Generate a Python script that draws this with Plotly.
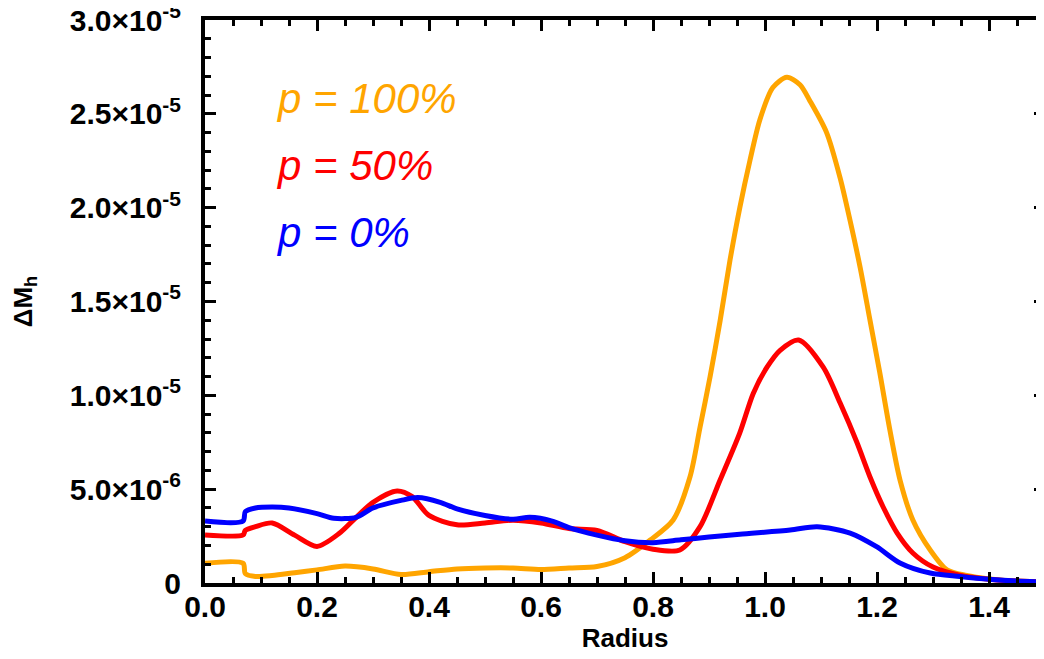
import plotly.graph_objects as go

# Data (values in units of 1e-6)
x_orange = [0, 0.068, 0.072, 0.09, 0.12, 0.16, 0.2, 0.25, 0.3, 0.35, 0.4, 0.45, 0.5, 0.55, 0.6, 0.65, 0.7,
            0.75, 0.795, 0.836, 0.866, 0.884, 0.902, 0.920, 0.9375, 0.955, 0.973, 0.991, 1.014, 1.039,
            1.0625, 1.080, 1.11, 1.134, 1.152, 1.170, 1.1875, 1.205, 1.223, 1.241, 1.264, 1.295, 1.325,
            1.36, 1.4, 1.45, 1.5]
y_orange = [1.05, 1.05, 0.5, 0.35, 0.4, 0.55, 0.7, 0.9, 0.75, 0.45, 0.6, 0.75, 0.8, 0.8, 0.72, 0.8, 0.88,
            1.35, 2.29, 3.36, 5.65, 8.3, 11.0, 14.0, 17.2, 20.0, 22.5, 24.7, 26.4, 26.95,
            26.55, 25.7, 24.0, 21.6, 19.3, 16.8, 14.0, 11.2, 8.15, 5.5, 3.36, 1.76, 0.7,
            0.4, 0.22, 0.1, 0.05]

x_red = [0, 0.068, 0.072, 0.09, 0.12, 0.16, 0.2, 0.24, 0.27, 0.3, 0.343, 0.37, 0.4, 0.45, 0.5, 0.55, 0.6,
         0.65, 0.7, 0.75, 0.8, 0.848, 0.884, 0.920, 0.955, 0.979, 1.0036, 1.027, 1.06, 1.104, 1.134,
         1.164, 1.1875, 1.211, 1.236, 1.264, 1.300, 1.35, 1.4, 1.45, 1.5]
y_red = [2.56, 2.56, 2.8, 3.0, 3.2, 2.55, 1.95, 2.65, 3.5, 4.3, 4.9, 4.6, 3.6, 3.1, 3.2, 3.35, 3.2,
         2.9, 2.8, 2.2, 1.8, 1.76, 3.0, 5.5, 8.0, 10.1, 11.5, 12.4, 12.95, 11.5, 9.6,
         7.5, 5.65, 4.05, 2.66, 1.6, 0.85, 0.4, 0.2, 0.1, 0.05]

x_blue = [0, 0.068, 0.072, 0.09, 0.12, 0.15, 0.2, 0.23, 0.27, 0.3, 0.35, 0.38, 0.42, 0.45, 0.5, 0.55,
          0.58, 0.62, 0.65, 0.7, 0.75, 0.8, 0.85, 0.9, 0.955, 1.045, 1.093, 1.152, 1.2, 1.241, 1.295,
          1.348, 1.4, 1.45, 1.5]
y_blue = [3.3, 3.3, 3.8, 4.0, 4.05, 4.0, 3.7, 3.45, 3.5, 4.0, 4.4, 4.55, 4.3, 3.95, 3.6, 3.4,
          3.5, 3.3, 2.95, 2.55, 2.25, 2.15, 2.3, 2.45, 2.6, 2.82, 3.0, 2.66, 1.92, 1.07, 0.53,
          0.35, 0.2, 0.1, 0.05]

series = [
    ("p = 100%", x_orange, y_orange, "#FFA500"),
    ("p = 50%", x_red, y_red, "#FF0000"),
    ("p = 0%", x_blue, y_blue, "#0000FF"),
]

y_tickvals = [0, 5e-6, 1e-5, 1.5e-5, 2e-5, 2.5e-5, 3e-5]
y_ticktext = ["0", "5.0×10<sup>-6</sup>", "1.0×10<sup>-5</sup>",
              "1.5×10<sup>-5</sup>", "2.0×10<sup>-5</sup>",
              "2.5×10<sup>-5</sup>", "3.0×10<sup>-5</sup>"]
x_tickvals = [0, 0.2, 0.4, 0.6, 0.8, 1.0, 1.2, 1.4]
x_ticktext = ["%.1f" % v for v in x_tickvals]

FAM = "Liberation Sans, Arial, sans-serif"

fig = go.Figure()
for name, xs, ys, col in series:
    fig.add_trace(go.Scatter(x=xs, y=[v * 1e-6 for v in ys], mode="lines",
                             line=dict(color=col, width=5, shape="spline", smoothing=0.8),
                             name=name, showlegend=False))

legend_y = [0.861, 0.742, 0.623]
for (name, xs, ys, col), ly in zip(series, legend_y):
    fig.add_annotation(xref="paper", yref="paper", x=0.082, y=ly, xanchor="left", yanchor="middle",
                       text="<i>%s</i>" % name, showarrow=False,
                       font=dict(family=FAM, size=42, color=col))

tickfont = dict(family=FAM, size=30, color="black", weight="bold")
fig.update_layout(
    width=1044, height=659,
    margin=dict(l=197, r=7, t=12, b=84),
    paper_bgcolor="white", plot_bgcolor="white",
    font=dict(family=FAM, color="black"),
    xaxis=dict(range=[0, 1.5], tickvals=x_tickvals, ticktext=x_ticktext, automargin=False,
               ticks="inside", ticklen=11, tickwidth=3, tickcolor="black",
               showline=True, linecolor="black", linewidth=4, mirror="ticks",
               showgrid=False, zeroline=False, ticklabelstandoff=-6, ticklabeloverflow="allow",
               minor=dict(ticks="inside", dtick=0.05, tick0=0, ticklen=6, tickwidth=3, tickcolor="black"),
               title=dict(text="Radius", font=dict(family=FAM, size=26, weight="bold"), standoff=0),
               tickfont=tickfont),
    yaxis=dict(range=[0, 3e-5], tickvals=y_tickvals, ticktext=y_ticktext, automargin=False,
               ticks="inside", ticklen=11, tickwidth=3, tickcolor="black",
               showline=True, linecolor="black", linewidth=4, mirror="ticks",
               showgrid=False, zeroline=False, ticklabelstandoff=14, ticklabeloverflow="allow",
               minor=dict(ticks="inside", dtick=1e-6, tick0=0, ticklen=6, tickwidth=3, tickcolor="black"),
               title=dict(text="ΔM<sub>h</sub>", font=dict(family=FAM, size=26, weight="bold"), standoff=40),
               tickfont=tickfont),
)
fig.write_html("out.html")
